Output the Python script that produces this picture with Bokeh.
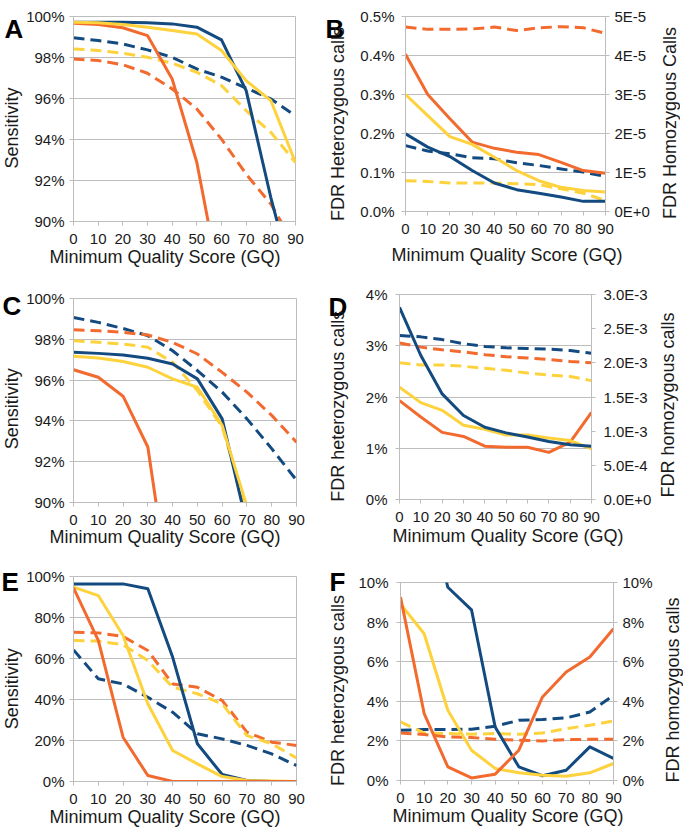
from bokeh.plotting import figure
from bokeh.models import Range1d, LinearAxis, FixedTicker, CustomJSTickFormatter, Label, Title
from bokeh.layouts import column, row
from bokeh.embed import file_html
from bokeh.resources import INLINE

# ---------------- data ----------------
gq = [0, 10, 20, 30, 40, 50, 60, 70, 80, 90]
x_ticks = [0, 10, 20, 30, 40, 50, 60, 70, 80, 90]
x_tick_labels = ["0", "10", "20", "30", "40", "50", "60", "70", "80", "90"]
x_title = "Minimum Quality Score (GQ)"

# Panel A (sensitivity, %)
a_navy_solid = [99.72, 99.72, 99.72, 99.69, 99.64, 99.48, 98.86, 96.38, 91.17, 86.6]
a_navy_dash = [98.96, 98.83, 98.66, 98.37, 98.01, 97.44, 97.04, 96.51, 95.98, 95.16]
a_orange_solid = [99.67, 99.61, 99.45, 99.07, 96.95, 92.88, 86.6, 80.0, 72.0, 64.0]
a_orange_dash = [97.93, 97.85, 97.65, 97.23, 96.47, 95.49, 94.02, 92.31, 90.85, 88.8]
a_yellow_solid = [99.72, 99.69, 99.61, 99.48, 99.32, 99.15, 98.34, 96.87, 95.90, 92.88]
a_yellow_dash = [98.42, 98.34, 98.21, 98.01, 97.72, 97.28, 96.63, 95.41, 94.35, 92.88]
a_y_ticks = [90, 92, 94, 96, 98, 100]
a_y_labels = ["90%", "92%", "94%", "96%", "98%", "100%"]

# Panel B (FDR het %, left; FDR hom, right)
b_navy_solid = [0.199, 0.165, 0.141, 0.105, 0.073, 0.056, 0.047, 0.037, 0.026, 0.026]
b_orange_solid = [0.403, 0.300, 0.238, 0.178, 0.162, 0.152, 0.146, 0.126, 0.105, 0.098]
b_yellow_solid = [0.300, 0.246, 0.192, 0.172, 0.139, 0.105, 0.079, 0.062, 0.054, 0.050]
b_orange_dash = [4.73e-5, 4.67e-5, 4.67e-5, 4.68e-5, 4.73e-5, 4.64e-5, 4.71e-5, 4.74e-5, 4.71e-5, 4.57e-5]
b_navy_dash = [1.69e-5, 1.55e-5, 1.48e-5, 1.38e-5, 1.35e-5, 1.25e-5, 1.18e-5, 1.09e-5, 1.01e-5, 0.90e-5]
b_yellow_dash = [0.79e-5, 0.77e-5, 0.73e-5, 0.73e-5, 0.73e-5, 0.71e-5, 0.69e-5, 0.58e-5, 0.47e-5, 0.28e-5]
b_y_ticks = [0.0, 0.1, 0.2, 0.3, 0.4, 0.5]
b_y_labels = ["0.0%", "0.1%", "0.2%", "0.3%", "0.4%", "0.5%"]
b_y2_ticks = [0.0, 1e-5, 2e-5, 3e-5, 4e-5, 5e-5]
b_y2_labels = ["0E+0", "1E-5", "2E-5", "3E-5", "4E-5", "5E-5"]

# Panel C (sensitivity, %)
c_navy_solid = [97.36, 97.31, 97.23, 97.07, 96.79, 96.06, 94.10, 88.9, 80.0, 70.0]
c_yellow_solid = [97.17, 97.08, 96.91, 96.63, 96.06, 95.65, 93.78, 89.8, 82.0, 72.0]
c_orange_solid = [96.51, 96.14, 95.21, 92.72, 84.5, 75.0, 65.0, 55.0, 45.0, 35.0]
c_navy_dash = [99.07, 98.83, 98.53, 98.18, 97.44, 96.47, 95.41, 94.10, 92.64, 91.09]
c_orange_dash = [98.47, 98.42, 98.34, 98.21, 97.85, 97.28, 96.38, 95.41, 94.27, 92.96]
c_yellow_dash = [97.93, 97.85, 97.77, 97.61, 96.87, 95.49, 93.70, 89.6, 82.0, 72.0]

# Panel D
d_navy_solid = [3.75, 2.81, 2.06, 1.64, 1.41, 1.30, 1.22, 1.13, 1.07, 1.04]
d_yellow_solid = [2.19, 1.89, 1.74, 1.45, 1.37, 1.26, 1.26, 1.20, 1.15, 0.99]
d_orange_solid = [1.93, 1.61, 1.31, 1.23, 1.04, 1.02, 1.02, 0.92, 1.12, 1.70]
d_navy_dash = [2.40e-3, 2.38e-3, 2.34e-3, 2.28e-3, 2.24e-3, 2.22e-3, 2.21e-3, 2.20e-3, 2.18e-3, 2.14e-3]
d_orange_dash = [2.29e-3, 2.23e-3, 2.19e-3, 2.16e-3, 2.12e-3, 2.09e-3, 2.07e-3, 2.05e-3, 2.02e-3, 2.00e-3]
d_yellow_dash = [2.00e-3, 1.97e-3, 1.97e-3, 1.95e-3, 1.92e-3, 1.89e-3, 1.85e-3, 1.82e-3, 1.80e-3, 1.74e-3]
d_y_ticks = [0, 1, 2, 3, 4]
d_y_labels = ["0%", "1%", "2%", "3%", "4%"]
d_y2_ticks = [0.0, 0.5e-3, 1.0e-3, 1.5e-3, 2.0e-3, 2.5e-3, 3.0e-3]
d_y2_labels = ["0.0E+0", "5.0E-4", "1.0E-3", "1.5E-3", "2.0E-3", "2.5E-3", "3.0E-3"]

# Panel E (sensitivity, %)
e_navy_solid = [96.4, 96.4, 96.4, 94.0, 60.7, 18.4, 3.4, 0.5, 0.0, 0.0]
e_yellow_solid = [94.8, 90.7, 71.2, 37.9, 15.1, 8.6, 2.4, 0.5, 0.2, 0.0]
e_orange_solid = [94.5, 68.8, 21.6, 2.9, 0.0, 0.0, 0.0, 0.0, 0.0, 0.0]
e_orange_dash = [72.8, 72.5, 70.7, 63.9, 47.6, 46.0, 39.5, 24.1, 19.2, 17.6]
e_yellow_dash = [68.8, 68.5, 66.7, 59.0, 46.0, 42.8, 37.9, 22.4, 18.4, 11.5]
e_navy_dash = [64.2, 50.1, 47.6, 41.1, 33.8, 23.3, 20.8, 17.6, 13.5, 7.8]
e_y_ticks = [0, 20, 40, 60, 80, 100]
e_y_labels = ["0%", "20%", "40%", "60%", "80%", "100%"]

# Panel F (%, both axes)
f_navy_solid = [19.0, 14.6, 9.76, 8.62, 2.70, 0.69, 0.24, 0.52, 1.70, 1.11]
f_orange_solid = [9.26, 3.38, 0.69, 0.13, 0.32, 1.53, 4.22, 5.48, 6.24, 7.66]
f_yellow_solid = [8.92, 7.41, 3.55, 1.53, 0.61, 0.39, 0.27, 0.22, 0.39, 0.86]
f_navy_dash = [2.54, 2.57, 2.57, 2.59, 2.74, 3.04, 3.08, 3.16, 3.46, 4.30]
f_yellow_dash = [2.96, 2.40, 2.37, 2.34, 2.37, 2.34, 2.40, 2.62, 2.79, 3.01]
f_orange_dash = [2.40, 2.32, 2.20, 2.17, 2.08, 2.03, 2.00, 2.07, 2.08, 2.08]
f_y_ticks = [0, 2, 4, 6, 8, 10]
f_y_labels = ["0%", "2%", "4%", "6%", "8%", "10%"]

# ---------------- style ----------------
NAVY = "#134a7f"
ORANGE = "#f26a2e"
YELLOW = "#fdd23c"
GRID = "#bdbdbd"
TXT = "#1a1a1a"
FONT = "Liberation Sans"
DASH = "11 6"


def no_align(p):
    if "frame_align" in p.properties():
        p.frame_align = False


def fmt(tv, lb):
    return CustomJSTickFormatter(args=dict(tvals=tv, tlabs=lb), code="""
let b = 0;
for (let i = 0; i < tvals.length; i++) {
  if (Math.abs(tvals[i] - tick) < Math.abs(tvals[b] - tick)) { b = i; }
}
return tlabs[b];
""")


def style_axis(ax, tv, lb, standoff):
    ax.ticker = FixedTicker(ticks=tv)
    ax.formatter = fmt(tv, lb)
    ax.major_label_text_font = FONT
    ax.major_label_text_font_size = "15px"
    ax.major_label_text_color = TXT
    ax.major_label_standoff = standoff
    ax.axis_line_color = GRID
    ax.major_tick_line_color = GRID
    ax.major_tick_in = 0
    ax.major_tick_out = 4
    ax.minor_tick_line_color = None
    ax.axis_label = None


class Panel:
    def __init__(self, left, fw, right, top, fh, bottom, yr, yticks, ylabels, ystand,
                 yr2=None, y2ticks=None, y2labels=None, y2stand=5):
        p = figure(frame_width=fw, frame_height=fh,
                   min_border_left=left, min_border_right=right,
                   min_border_top=top, min_border_bottom=bottom,
                   x_range=Range1d(0, 90), y_range=Range1d(*yr),
                   output_backend="svg", toolbar_location=None, title=None, tools="")
        no_align(p)
        p.background_fill_color = "white"
        p.border_fill_color = "white"
        p.outline_line_color = GRID
        p.outline_line_width = 1
        style_axis(p.xaxis[0], x_ticks, x_tick_labels, 8)
        style_axis(p.yaxis[0], yticks, ylabels, ystand)
        p.xgrid.visible = False
        p.ygrid.ticker = FixedTicker(ticks=yticks)
        p.ygrid.grid_line_color = GRID
        p.ygrid.grid_line_width = 1
        if yr2 is not None:
            p.extra_y_ranges = {"r": Range1d(*yr2)}
            ax2 = LinearAxis(y_range_name="r")
            style_axis(ax2, y2ticks, y2labels, y2stand)
            p.add_layout(ax2, "right")
        self.p = p

    def line(self, ys, color, dashed=False, right=False):
        kw = dict(line_color=color, line_width=3, line_join="round")
        if dashed:
            kw["line_dash"] = DASH
        if right:
            kw["y_range_name"] = "r"
        self.p.line(gq, ys, **kw)

    def xtitle(self, offset, standoff):
        self.p.add_layout(Title(text=x_title, align="left", offset=offset,
                                standoff=standoff, vertical_align="top",
                                text_font=FONT, text_font_size="18px",
                                text_font_style="normal", text_color=TXT), "below")


def strip(w, h):
    s = figure(frame_width=w, frame_height=h, min_border=0,
               x_range=Range1d(0, 1), y_range=Range1d(0, 1),
               x_axis_type=None, y_axis_type=None, output_backend="svg",
               toolbar_location=None, title=None, tools="")
    no_align(s)
    s.outline_line_color = None
    s.background_fill_color = "white"
    s.border_fill_color = "white"
    return s


def put(s, txt, sx, sy, size="18px", bold=False, angle=0, align="left",
        baseline="alphabetic"):
    s.add_layout(Label(x=sx, y=sy, x_units="screen", y_units="screen", text=txt,
                       text_font=FONT, text_font_size=size,
                       text_font_style="bold" if bold else "normal",
                       text_color="black" if bold else TXT,
                       text_align=align, text_baseline=baseline,
                       angle=angle, angle_units="deg"))


def letter(s, txt, sx, sy):
    put(s, txt, sx, sy, size="26px", bold=True)


def ytitle(s, txt, sx, sy):
    put(s, txt, sx, sy, angle=90, align="center", baseline="middle")


# ================= row 1 (height 279) =================
H1 = 279
A = Panel(48, 222, 22, 16, 205, 58, (90, 100), a_y_ticks, a_y_labels, 5)
A.line(a_navy_dash, NAVY, True)
A.line(a_yellow_dash, YELLOW, True)
A.line(a_orange_dash, ORANGE, True)
A.line(a_navy_solid, NAVY)
A.line(a_orange_solid, ORANGE)
A.line(a_yellow_solid, YELLOW)
A.xtitle(-24, 0)

B = Panel(46, 200, 45, 16, 195, 68, (0, 0.5), b_y_ticks, b_y_labels, 7,
          (0, 5e-5), b_y2_ticks, b_y2_labels, 5)
B.line(b_orange_dash, ORANGE, True, True)
B.line(b_navy_dash, NAVY, True, True)
B.line(b_yellow_dash, YELLOW, True, True)
B.line(b_navy_solid, NAVY)
B.line(b_orange_solid, ORANGE)
B.line(b_yellow_solid, YELLOW)
B.xtitle(-14, 16)

s1l = strip(23, H1)
letter(s1l, "A", 4, 251)
ytitle(s1l, "Sensitivity", 11.7, 151.5)
s1m = strip(40, H1)
letter(s1m, "B", 8, 251)
ytitle(s1m, "FDR Heterozygous calls", 20.7, 155.5)
s1r = strip(28, H1)
ytitle(s1r, "FDR Homozygous Calls", 17, 156.5)

# ================= row 2 (height 278) =================
H2 = 278
C = Panel(48, 223, 21, 19, 204, 55, (90, 100), a_y_ticks, a_y_labels, 5)
C.line(c_navy_dash, NAVY, True)
C.line(c_orange_dash, ORANGE, True)
C.line(c_yellow_dash, YELLOW, True)
C.line(c_navy_solid, NAVY)
C.line(c_orange_solid, ORANGE)
C.line(c_yellow_solid, YELLOW)
C.xtitle(-24, -2)

D = Panel(34, 192, 60, 15, 205, 58, (0, 4), d_y_ticks, d_y_labels, 8,
          (0, 3e-3), d_y2_ticks, d_y2_labels, 8)
D.line(d_navy_dash, NAVY, True, True)
D.line(d_orange_dash, ORANGE, True, True)
D.line(d_yellow_dash, YELLOW, True, True)
D.line(d_orange_solid, ORANGE)
D.line(d_yellow_solid, YELLOW)
D.line(d_navy_solid, NAVY)
D.xtitle(-7, 2)

s2l = strip(23, H2)
letter(s2l, "C", 2, 252)
ytitle(s2l, "Sensitivity", 11.7, 148.7)
s2m = strip(45, H2)
letter(s2m, "D", 11, 251)
ytitle(s2m, "FDR heterozygous calls", 20.7, 151.2)
s2r = strip(27, H2)
ytitle(s2r, "FDR homozygous calls", 13, 152.5)

# ================= row 3 (height 275) =================
H3 = 275
E = Panel(48, 223, 21, 19, 205, 51, (0, 100), e_y_ticks, e_y_labels, 5)
E.line(e_orange_dash, ORANGE, True)
E.line(e_yellow_dash, YELLOW, True)
E.line(e_navy_dash, NAVY, True)
E.line(e_navy_solid, NAVY)
E.line(e_yellow_solid, YELLOW)
E.line(e_orange_solid, ORANGE)
E.xtitle(-24, 0)

F = Panel(42, 213, 39, 25, 198, 52, (0, 10), f_y_ticks, f_y_labels, 8,
          (0, 10), f_y_ticks, f_y_labels, 5)
F.line(f_navy_dash, NAVY, True, True)
F.line(f_yellow_dash, YELLOW, True, True)
F.line(f_orange_dash, ORANGE, True, True)
F.line(f_navy_solid, NAVY)
F.line(f_yellow_solid, YELLOW)
F.line(f_orange_solid, ORANGE)
F.xtitle(-8, 0)

s3l = strip(23, H3)
letter(s3l, "E", 1, 250.3)
ytitle(s3l, "Sensitivity", 11.7, 143.7)
s3m = strip(38, H3)
letter(s3m, "F", 12, 250.3)
ytitle(s3m, "FDR heterozygous calls", 20.7, 142)
s3r = strip(29, H3)
ytitle(s3r, "FDR homozygous calls", 17, 142.5)

layout = column(
    row(s1l, A.p, s1m, B.p, s1r, spacing=0),
    row(s2l, C.p, s2m, D.p, s2r, spacing=0),
    row(s3l, E.p, s3m, F.p, s3r, spacing=0),
    spacing=0)

open("out.html", "w").write(file_html(layout, INLINE))
